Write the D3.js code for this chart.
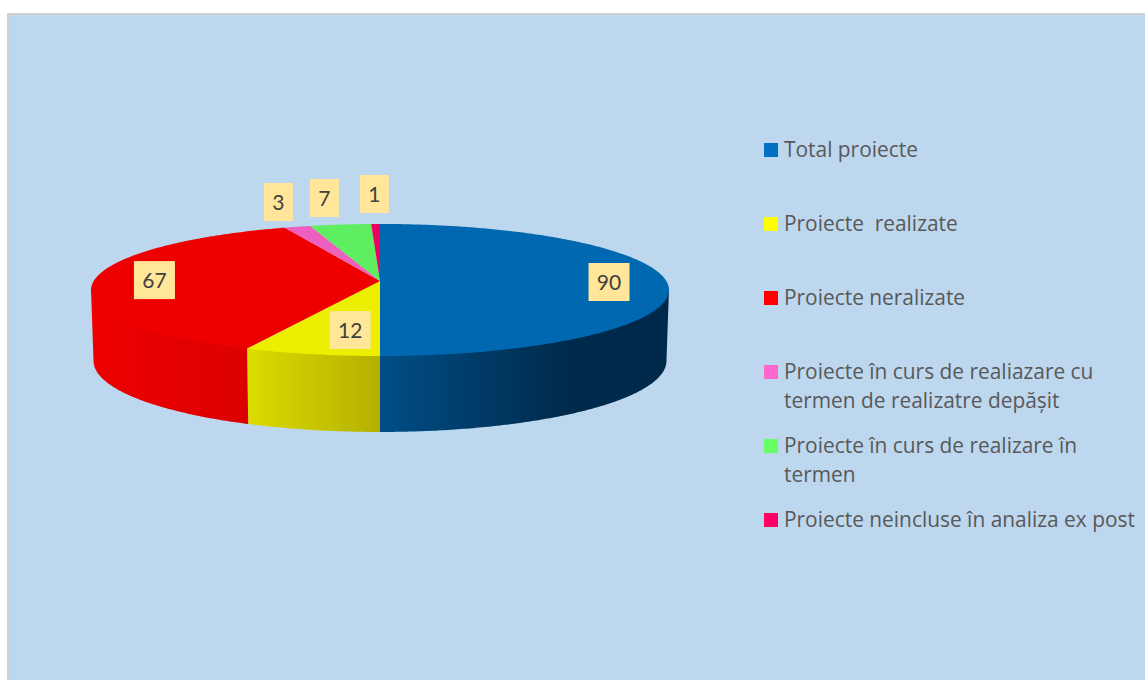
<!DOCTYPE html>
<html>
<head>
<meta charset="utf-8">
<script src="https://cdn.jsdelivr.net/npm/d3@7"></script>
<style>
html,body{margin:0;padding:0;background:#fff;overflow:hidden}
svg{display:block}
</style>
</head>
<body>
<svg id="chart" width="1145" height="680"></svg>
<script>
// Data
const categories = [
  "Total proiecte",
  "Proiecte  realizate",
  "Proiecte neralizate",
  "Proiecte în curs de realiazare cu\ntermen de realizatre depășit",
  "Proiecte în curs de realizare în\ntermen",
  "Proiecte neincluse în analiza ex post"
];
const values = [90, 12, 67, 3, 7, 1];

// Styles
const topColors = ["#0068b0", "#eeee00", "#ee0000", "#ee5fbe", "#5fee5f", "#ee0060"];
const legendColors = ["#0070c0", "#ffff00", "#ff0000", "#ff66cc", "#66ff66", "#ff0066"];
const wallStops = [
  ["#004e87", "#002a4b"],
  ["#b5b000", "#dadc00"],
  ["#dc0000", "#ee0000"],
  ["#c04a99", "#c04a99"],
  ["#4cc04c", "#4cc04c"],
  ["#c00050", "#c00050"]
];
// label nudges from the slice's radial anchor
const labelNudge = [[0, 1], [23.5, -7.7], [3, 0], [-34, -34.6], [-23.2, -36.8], [-2, -40.3]];
const legendRowY = [150, 224, 298, 372, 446, 520];

const svg = d3.select("#chart");
const cx = 380;
const k = 0.136;

// Perspective disc projection: angle clockwise from top, radial fraction f
function project(plane, a, f = 1) {
  const X = Math.sin(a) * f, Y = -Math.cos(a) * f;
  const d = 1 - k * Y;
  return [cx + plane.A * X / d, plane.y0 + plane.B * Y / d];
}
const topPlane = {A: 286.3, B: 64.8, y0: 281};
const basePlane = {A: 283.8, B: 69.7, y0: 351.3};

const pie = d3.pie().value(d => d).sort(null).startAngle(0).endAngle(2 * Math.PI);
const arcs = pie(values);
const line = d3.line();

function samples(a0, a1) {
  const n = Math.max(2, Math.ceil((a1 - a0) / 0.01));
  return d3.range(n + 1).map(i => a0 + (a1 - a0) * i / n);
}

// Panel
svg.append("rect").attr("x", 7).attr("y", 13).attr("width", 1140).attr("height", 670).attr("fill", "#d0d0d0");
svg.append("rect").attr("x", 9).attr("y", 15).attr("width", 1138).attr("height", 668).attr("fill", "#bdd7ee");

const defs = svg.append("defs");

// Side walls (front half only); the upper edge tucks under the top face
const aR = Math.acos(-k), aL = 2 * Math.PI - aR;
arcs.forEach((s, i) => {
  const a0 = Math.max(s.startAngle, aR), a1 = Math.min(s.endAngle, aL);
  if (a1 <= a0) return;
  const as = samples(a0, a1);
  const upper = as.map((a, j) => project(topPlane, a, (j === 0 || j === as.length - 1) ? 1 : 0.985));
  const pts = upper.concat(as.slice().reverse().map(a => project(basePlane, a)));
  const xs = pts.map(p => p[0]);
  const x0 = d3.min(xs);
  const x1 = d3.max(xs);
  const id = "wall" + i;
  const grad = defs.append("linearGradient").attr("id", id).attr("gradientUnits", "userSpaceOnUse")
    .attr("x1", x0).attr("x2", i === 0 ? x0 + (x1 - x0) * 0.65 : x1).attr("y1", 0).attr("y2", 0);
  const c = wallStops[i];
  if (i === 0) {
    grad.append("stop").attr("offset", 0).attr("stop-color", c[0]);
    grad.append("stop").attr("offset", 1).attr("stop-color", c[1]);
  } else {
    grad.append("stop").attr("offset", 0).attr("stop-color", c[1]);
    grad.append("stop").attr("offset", 1).attr("stop-color", c[0]);
  }
  svg.append("path").attr("d", line(pts) + "Z").attr("fill", `url(#${id})`);
});

// Top faces
arcs.forEach((s, i) => {
  const pts = samples(s.startAngle, s.endAngle).map(a => project(topPlane, a));
  pts.push(project(topPlane, 0, 0));
  svg.append("path").attr("d", line(pts) + "Z").attr("fill", topColors[i]);
});

// Data labels
const labelFont = "Lato, 'Open Sans', sans-serif";
arcs.forEach((s, i) => {
  const mid = (s.startAngle + s.endAngle) / 2;
  const p = project(topPlane, mid, 0.8);
  const lx = p[0] + labelNudge[i][0], ly = p[1] + labelNudge[i][1];
  const w = String(values[i]).length === 1 ? 29 : 41;
  svg.append("rect").attr("x", lx - w / 2).attr("y", ly - 19).attr("width", w).attr("height", 38).attr("fill", "#ffe699");
  svg.append("text").attr("x", lx).attr("y", ly).attr("dy", "0.38em").attr("text-anchor", "middle")
    .attr("font-family", labelFont).attr("font-size", 21).attr("fill", "#404040").text(values[i]);
});

// Legend
categories.forEach((c, i) => {
  const y = legendRowY[i];
  svg.append("rect").attr("x", 764).attr("y", y - 7).attr("width", 14).attr("height", 14).attr("fill", legendColors[i]);
  c.split("\n").forEach((t, j) => {
    svg.append("text").attr("x", 784).attr("y", y + j * 29).attr("dy", "0.35em")
      .attr("xml:space", "preserve").style("white-space", "pre")
      .attr("font-family", "'Open Sans', sans-serif").attr("font-size", 20.9).attr("fill", "#595959").text(t);
  });
});
</script>
</body>
</html>
